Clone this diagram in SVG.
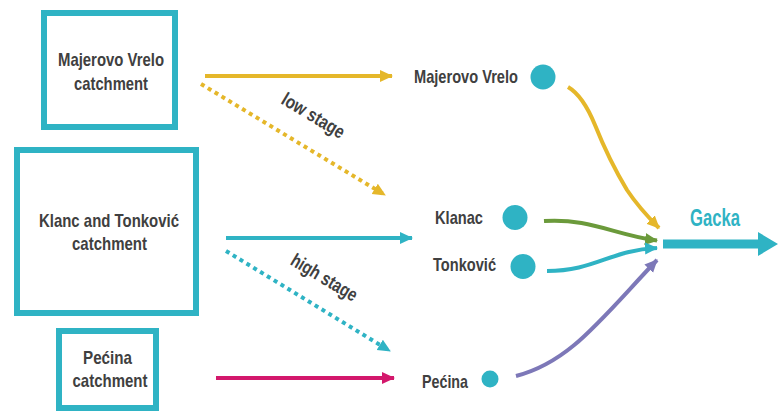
<svg xmlns="http://www.w3.org/2000/svg" width="779" height="411" viewBox="0 0 779 411">
<style>
.box{fill:#fff;stroke:#2fb3c4;stroke-width:6}
.lbl{font-family:"Liberation Sans",Arial,sans-serif;font-weight:bold;fill:#404040;font-size:19px;text-anchor:middle}
.nl{font-family:"Liberation Sans",Arial,sans-serif;font-weight:bold;fill:#404040;font-size:19px;text-anchor:end}
.dot{fill:#2fb3c4}
.ln{fill:none;stroke-width:4}
.dash{stroke-dasharray:4 4}
</style>
<defs>
<marker id="aY" markerUnits="userSpaceOnUse" markerWidth="14" markerHeight="14" refX="12" refY="7" orient="auto"><path d="M0,1 L13,7 L0,13 Z" fill="#e5b72a"/></marker>
<marker id="aC" markerUnits="userSpaceOnUse" markerWidth="14" markerHeight="14" refX="12" refY="7" orient="auto"><path d="M0,1 L13,7 L0,13 Z" fill="#2fb3c4"/></marker>
<marker id="aM" markerUnits="userSpaceOnUse" markerWidth="14" markerHeight="14" refX="12" refY="7" orient="auto"><path d="M0,1 L13,7 L0,13 Z" fill="#d3186c"/></marker>
<marker id="aG" markerUnits="userSpaceOnUse" markerWidth="14" markerHeight="14" refX="12" refY="7" orient="auto"><path d="M0,1 L13,7 L0,13 Z" fill="#6b9a3b"/></marker>
<marker id="aP" markerUnits="userSpaceOnUse" markerWidth="14" markerHeight="14" refX="12" refY="7" orient="auto"><path d="M0,1 L13,7 L0,13 Z" fill="#7d78b8"/></marker>
</defs>
<g id="catchment-majerovo"><rect class="box" x="44" y="13" width="131" height="114"/><text class="lbl"><tspan x="111" y="66" textLength="106" lengthAdjust="spacingAndGlyphs">Majerovo Vrelo</tspan><tspan x="111" y="90" textLength="74" lengthAdjust="spacingAndGlyphs">catchment</tspan></text></g>
<g id="catchment-klanc"><rect class="box" x="17" y="150" width="179" height="163"/><text class="lbl"><tspan x="109" y="227" textLength="140" lengthAdjust="spacingAndGlyphs">Klanc and Tonković</tspan><tspan x="109.5" y="250" textLength="75" lengthAdjust="spacingAndGlyphs">catchment</tspan></text></g>
<g id="catchment-pecina"><rect class="box" x="59" y="331" width="97" height="77"/><text class="lbl"><tspan x="107.5" y="364" textLength="49" lengthAdjust="spacingAndGlyphs">Pećina</tspan><tspan x="110" y="387" textLength="75" lengthAdjust="spacingAndGlyphs">catchment</tspan></text></g>
<g id="spring-majerovo"><text class="nl" x="518" y="83" textLength="104" lengthAdjust="spacingAndGlyphs">Majerovo Vrelo</text><circle class="dot" cx="543" cy="77" r="12.5"/></g>
<g id="spring-klanac"><text class="nl" x="483" y="224" textLength="48" lengthAdjust="spacingAndGlyphs">Klanac</text><circle class="dot" cx="515" cy="217.5" r="12.5"/></g>
<g id="spring-tonkovic"><text class="nl" x="496" y="271" textLength="63" lengthAdjust="spacingAndGlyphs">Tonković</text><circle class="dot" cx="523" cy="266.5" r="12.5"/></g>
<g id="spring-pecina"><text class="nl" x="468" y="388" textLength="46" lengthAdjust="spacingAndGlyphs">Pećina</text><circle class="dot" cx="490" cy="379" r="8.5"/></g>
<g id="gacka"><text x="715" y="226" font-family="'Liberation Sans',Arial,sans-serif" font-weight="bold" font-size="23" fill="#2fb3c4" text-anchor="middle" textLength="50" lengthAdjust="spacingAndGlyphs">Gacka</text><path d="M663,239.5 H758 V232 L778,244 L758,256 V248.5 H663 Z" fill="#2fb3c4"/></g>
<g id="connectors">
<path class="ln" d="M205,76 H392" stroke="#e5b72a" marker-end="url(#aY)"/>
<path class="ln dash" d="M201,84 L385,195" stroke="#e5b72a" marker-end="url(#aY)"/>
<path class="ln" d="M226,238 H412" stroke="#2fb3c4" marker-end="url(#aC)"/>
<path class="ln dash" d="M226,251 L390,351" stroke="#2fb3c4" marker-end="url(#aC)"/>
<path class="ln" d="M216,378 H394" stroke="#d3186c" marker-end="url(#aM)"/>
<path class="ln" d="M568,87 C580,94 588,108 595,125 C605,150 615,170 627,190 C637,205 648,217 659,228" stroke="#e5b72a" marker-end="url(#aY)"/>
<path class="ln" d="M544,221 C590,218 615,235 657,240.5" stroke="#6b9a3b" marker-end="url(#aG)"/>
<path class="ln" d="M547,271 C595,271 610,250 657,248" stroke="#2fb3c4" marker-end="url(#aC)"/>
<path class="ln" d="M516,376 C570,362 600,320 657,260" stroke="#7d78b8" marker-end="url(#aP)"/>
</g>
<g id="labels">
<text class="lbl" transform="translate(310,121) rotate(31)" textLength="70" lengthAdjust="spacingAndGlyphs" font-size="18">low stage</text>
<text class="lbl" transform="translate(321,283) rotate(31)" textLength="74" lengthAdjust="spacingAndGlyphs" font-size="18">high stage</text>
</g>
</svg>
